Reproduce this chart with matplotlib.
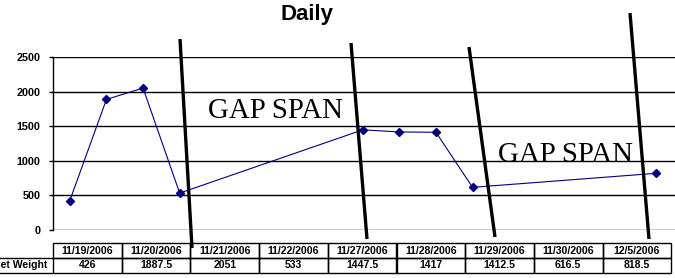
import numpy as np
import pandas as pd
import matplotlib
matplotlib.use("Agg")
import matplotlib.pyplot as plt
import matplotlib.dates as mdates

# ── Données ──────────────────────────────────────────────────────────────────
DATES = ["2006-11-19", "2006-11-20", "2006-11-21", "2006-11-22", "2006-11-27",
         "2006-11-28", "2006-11-29", "2006-11-30", "2006-12-05"]
DATE_LABELS = ["11/19/2006", "11/20/2006", "11/21/2006", "11/22/2006", "11/27/2006",
               "11/28/2006", "11/29/2006", "11/30/2006", "12/5/2006"]
NET_WEIGHT = [426, 1887.5, 2051, 533, 1447.5, 1417, 1412.5, 616.5, 818.5]
VALUE_LABELS = ["426", "1887.5", "2051", "533", "1447.5", "1417", "1412.5", "616.5", "818.5"]
ROW_LABEL = "Net Weight"
Y_TICKS = [0, 500, 1000, 1500, 2000, 2500]

W, H = 675, 278
NAVY = "#000080"

fig = plt.figure(figsize=(W / 100, H / 100), dpi=100)

# ── Graphe principal (axe temporel) ─────────────────────────────────────────
ax = fig.add_axes([53 / W, (H - 230) / H, (675 - 53) / W, 173 / H])
dates = pd.to_datetime(DATES)
x = mdates.date2num(dates)
ax.plot(x, NET_WEIGHT, color=NAVY, lw=0.8, marker="D", ms=4,
        mfc=NAVY, mec=NAVY, zorder=3)
ax.set_xlim(x[0] - 0.46, x[-1] + 0.53)
ax.set_ylim(0, 2500)
ax.set_yticks(Y_TICKS)
ax.set_yticklabels([str(t) for t in Y_TICKS], fontsize=7.8,
                   fontweight="bold", family="Liberation Sans")
ax.tick_params(axis="y", length=3, width=1, pad=6, color="black")
ax.set_xticks([])
ax.grid(True, axis="y", color="black", lw=1)
for side in ("top", "right", "bottom"):
    ax.spines[side].set_visible(False)
ax.spines["left"].set_linewidth(1)

# ── Calque en pixels : titre, tableau, annotations ─────────────────────────
ov = fig.add_axes([0, 0, 1, 1], facecolor="none")
ov.set_xlim(0, W)
ov.set_ylim(H, 0)
ov.axis("off")

ov.text(306.5, 20, "Daily", ha="center", va="baseline", fontsize=16,
        fontweight="bold", family="Liberation Sans")

# Tableau de données
cell_text = [[""] + DATE_LABELS, [ROW_LABEL] + VALUE_LABELS]
col_w = [73] + [68.7] * len(DATE_LABELS)
x0 = -20
tw = sum(col_w)
tbl = ov.table(cellText=cell_text, cellLoc="center", colWidths=[c / tw for c in col_w],
               bbox=[x0 / W, (H - 273) / H, tw / W, 30 / H])
tbl.auto_set_font_size(False)
for (r, c), cell in tbl.get_celld().items():
    cell.set_linewidth(1)
    cell.set_edgecolor("black")
    cell.set_facecolor("none")
    cell.get_text().set_fontsize(7.6)
    cell.get_text().set_fontweight("bold")
    cell.get_text().set_family("Liberation Sans")
    if c == 0:
        cell.get_text().set_ha("right")
        cell._loc = "right"
        cell.PAD = 0.08
        if r == 0:
            cell.visible_edges = ""
        else:
            cell.visible_edges = "TB"

# Traits "GAP SPAN"
gaps = [((180, 39), (192, 248)), ((351, 43), (367, 239)),
        ((469, 47), (495, 237)), ((630, 13), (649, 239))]
for (xa, ya), (xb, yb) in gaps:
    ov.plot([xa, xb], [ya, yb], color="black", lw=2.4, solid_capstyle="butt", zorder=5)

ov.text(208, 118, "GAP SPAN", ha="left", va="baseline", fontsize=20.8,
        family="Liberation Serif")
ov.text(498, 162, "GAP SPAN", ha="left", va="baseline", fontsize=20.8,
        family="Liberation Serif")

fig.savefig("out.png", dpi=100)
